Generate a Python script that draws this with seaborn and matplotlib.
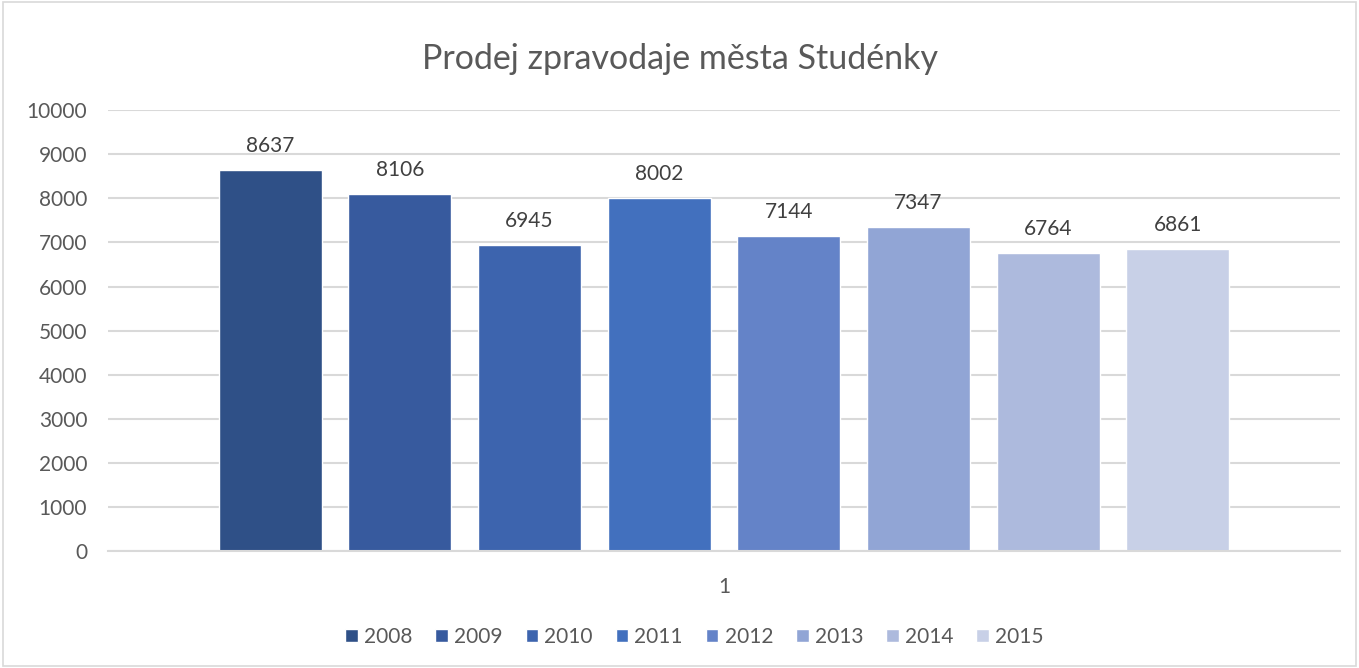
import seaborn as sns
import matplotlib.pyplot as plt
import pandas as pd
from matplotlib.patches import Rectangle

# data
years = ["2008", "2009", "2010", "2011", "2012", "2013", "2014", "2015"]
sales = [8637, 8106, 6945, 8002, 7144, 7347, 6764, 6861]
category = ["1"] * len(years)
colors = ["#2F5087", "#375A9E", "#3D64AE", "#4270BE", "#6483C8", "#91A5D5", "#ADBADD", "#C8D0E7"]

df = pd.DataFrame({"kat": category, "rok": years, "prodej": sales})

sns.set_style("white")
plt.rcParams['font.family'] = ['Lato', 'DejaVu Sans']
text_col = "#595959"

fig = plt.figure(figsize=(13.59, 6.68), dpi=100)
ax = fig.add_axes([0.0795, 0.175, 0.9065, 0.66])

sns.barplot(data=df, x="kat", y="prodej", hue="rok", palette=colors,
            width=0.842, gap=0.205, ax=ax, legend=True, saturation=1)

for cont in ax.containers:
    ax.bar_label(cont, fmt="%d", padding=10, fontsize=15, color="#404040")

ax.set_ylim(0, 10000)
ax.set_xlim(-0.5, 0.5)
ax.set_yticks(range(0, 10001, 1000))
ax.yaxis.grid(True, color="#D9D9D9", linewidth=1.5)
ax.set_axisbelow(True)
for s in ax.spines.values():
    s.set_visible(False)
ax.spines["bottom"].set_visible(True)
ax.spines["bottom"].set_color("#D9D9D9")
ax.spines["bottom"].set_linewidth(1.5)
ax.tick_params(axis="both", labelsize=15, colors=text_col, length=0)
ax.tick_params(axis="x", pad=19)
ax.tick_params(axis="y", pad=15)
ax.set_xlabel("")
ax.set_ylabel("")

fig.suptitle("Prodej zpravodaje města Studénky", y=0.935, fontsize=24.5, color=text_col)

ax.legend(loc="center", bbox_to_anchor=(0.511, 0.047), bbox_transform=fig.transFigure,
          ncol=8, frameon=False, fontsize=15, labelcolor=text_col,
          handlelength=0.6, handleheight=0.6, handletextpad=0.3, columnspacing=1.1)

fig.patches.append(Rectangle((0.002, 0.003), 0.996, 0.994, transform=fig.transFigure,
                             fill=False, edgecolor="#D9D9D9", linewidth=1.2))

fig.savefig("out.png", dpi=100)
